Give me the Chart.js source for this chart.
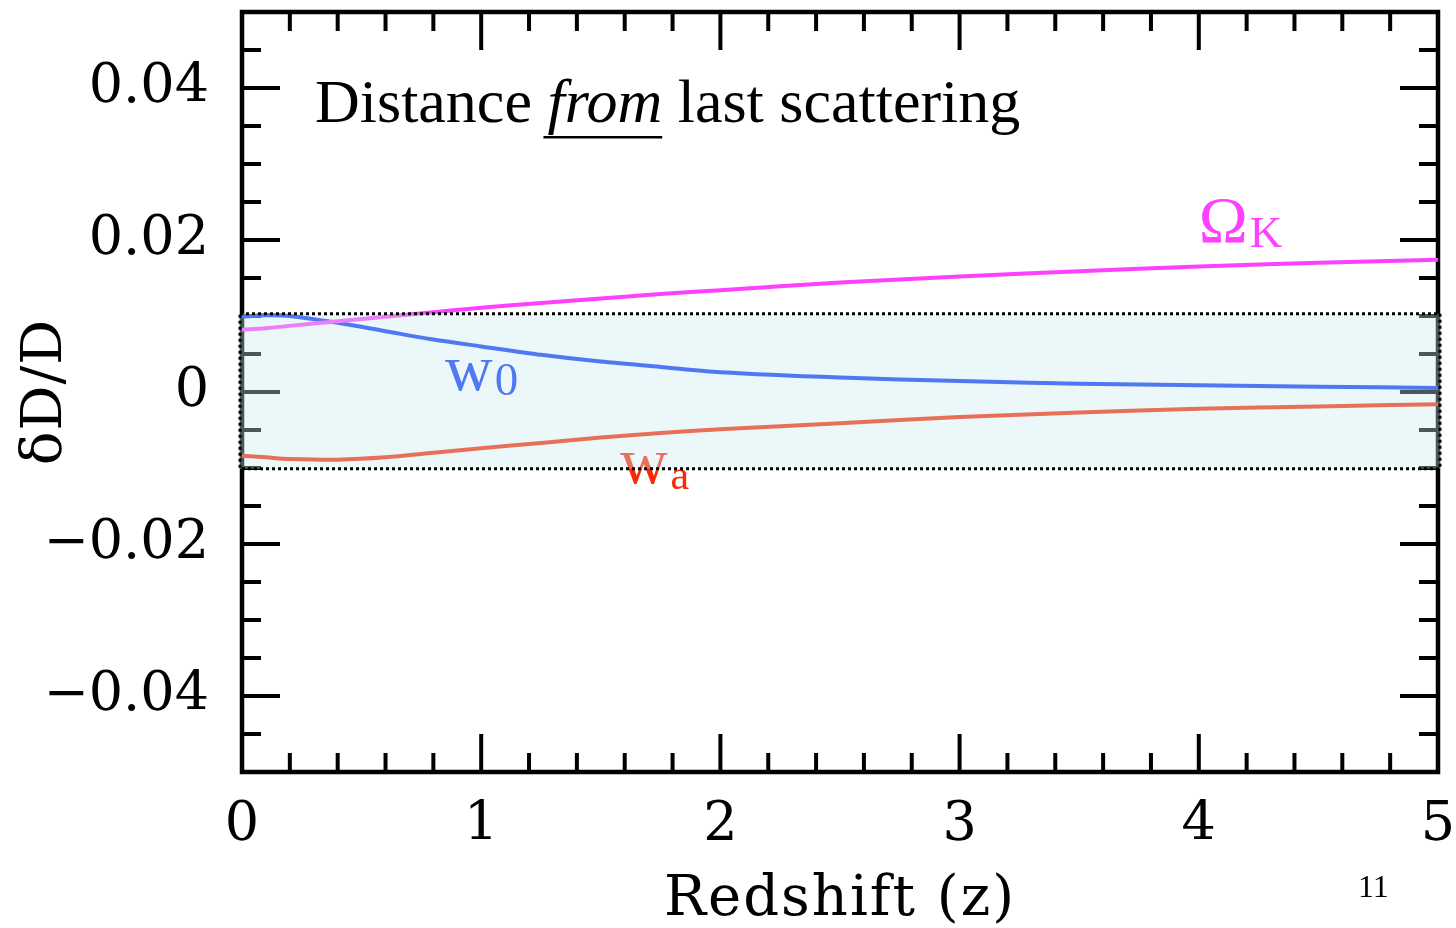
<!DOCTYPE html>
<html><head><meta charset="utf-8">
<script src="https://cdn.jsdelivr.net/npm/chart.js@4.4.1/dist/chart.umd.min.js"></script>
<style>html,body{margin:0;padding:0;background:#fff;overflow:hidden}canvas{display:block}</style>
</head><body>
<canvas id="c" width="1456" height="928"></canvas>
<script>
// ---- data ----
const redshift = [0, 0.1, 0.2, 0.4, 0.6, 0.8, 1.0, 1.25, 1.5, 1.75, 2.0, 2.5, 3.0, 3.5, 4.0, 4.5, 5.0];
const omegaK   = [0.0082, 0.0084, 0.0087, 0.0093, 0.0099, 0.0105, 0.0111, 0.0117, 0.0123, 0.0129, 0.0134, 0.0144, 0.0152, 0.0159, 0.0165, 0.0170, 0.0174];
const w0       = [0.0099, 0.0101, 0.0100, 0.0091, 0.0080, 0.0069, 0.0060, 0.0049, 0.0040, 0.0033, 0.0026, 0.0019, 0.00145, 0.0011, 0.0009, 0.0007, 0.00053];
const wa       = [-0.0084, -0.0086, -0.0088, -0.0089, -0.0086, -0.0080, -0.0074, -0.0067, -0.0060, -0.0054, -0.0049, -0.0041, -0.0033, -0.0027, -0.0022, -0.0019, -0.0016];
const xTickValues = [0, 1, 2, 3, 4, 5];
const xTickLabels = ['0', '1', '2', '3', '4', '5'];
const yTickValues = [-0.04, -0.02, 0, 0.02, 0.04];
const yTickLabels = ['\u22120.04', '\u22120.02', '0', '0.02', '0.04'];
const bandRange = [-0.0101, 0.0103];
const seriesNames = ['\u03A9K', 'w0', 'wa'];

const MAG = '#FF40FF', BLUE = '#0A36F4', RED = '#FA2A06';
const tickFont = {family: '"DejaVu Serif"', size: 54};

const toPts = ys => redshift.map((z, i) => ({x: z, y: ys[i]}));
const noPad = s => { s.paddingLeft = 0; s.paddingRight = 0; s.paddingTop = 0; s.paddingBottom = 0; };

const decor = {
  id: 'decor',
  beforeDraw(chart) {
    for (const [id, sp] of [['x', '2px'], ['y', '1px']]) {
      const s = chart.scales[id];
      if (s && !s._lsPatched) {
        const orig = s.drawTitle.bind(s);
        s.drawTitle = function () { const c = this.ctx; c.save(); c.letterSpacing = sp; orig(); c.restore(); };
        s._lsPatched = true;
      }
    }
  },
  beforeDatasetsDraw(chart) {
    const {ctx, chartArea: a, scales: {x, y}} = chart;
    ctx.save();
    ctx.strokeStyle = '#000';
    ctx.lineWidth = 4;
    ctx.lineCap = 'butt';
    ctx.beginPath();
    for (let i = 1; i < 25; i++) {
      const px = x.getPixelForValue(i / 5);
      const L = (i % 5 === 0) ? 38 : 19;
      ctx.moveTo(px, a.bottom); ctx.lineTo(px, a.bottom - L);
      ctx.moveTo(px, a.top); ctx.lineTo(px, a.top + L);
    }
    for (let i = -9; i <= 9; i++) {
      const py = y.getPixelForValue(i * 0.005);
      const L = (i % 4 === 0) ? 38 : 19;
      ctx.moveTo(a.left, py); ctx.lineTo(a.left + L, py);
      ctx.moveTo(a.right, py); ctx.lineTo(a.right - L, py);
    }
    ctx.stroke();
    ctx.lineWidth = 4.5;
    ctx.lineJoin = 'miter';
    ctx.strokeRect(a.left, a.top, a.right - a.left, a.bottom - a.top);
    ctx.restore();
  },
  afterDatasetsDraw(chart) {
    const {ctx, chartArea: a, scales: {x, y}} = chart;
    ctx.save();
    ctx.textBaseline = 'alphabetic';
    ctx.textAlign = 'left';
    const serif = '"Liberation Serif", "Times New Roman", serif';
    let tx = a.left + 73, ty = a.top + 110;
    const parts = [['Distance ', ''], ['from', 'italic '], [' last scattering', '']];
    ctx.fillStyle = '#000';
    for (const [t, st] of parts) {
      ctx.font = st + '62px ' + serif;
      ctx.fillText(t, tx, ty);
      const w = ctx.measureText(t).width;
      if (st) { ctx.fillRect(tx - 4, ty + 14, w + 4, 2.5); }
      tx += w;
    }
    function lab(z, v, main, sub, f1, f2, dx, dy, color) {
      const px = x.getPixelForValue(z), py = y.getPixelForValue(v);
      ctx.fillStyle = color;
      ctx.font = f1 + 'px ' + serif;
      ctx.fillText(main, px, py);
      const w = ctx.measureText(main).width;
      ctx.font = f2 + 'px ' + serif;
      ctx.fillText(sub, px + w + dx, py + dy);
    }
    lab(4.0, 0.0197, seriesNames[0].charAt(0), seriesNames[0].charAt(1), 66, 45, 2, 5, MAG);
    lab(0.849, 0.00026, seriesNames[1].charAt(0), seriesNames[1].charAt(1), 66, 47, 2, 5, BLUE);
    lab(1.58, -0.0120, seriesNames[2].charAt(0), seriesNames[2].charAt(1), 66, 42, 3, 6, RED);
    ctx.fillStyle = '#000';
    ctx.font = '32px ' + serif;
    ctx.fillText('11', a.right - 80, a.bottom + 125);
    const yT = y.getPixelForValue(bandRange[1]), yB = y.getPixelForValue(bandRange[0]);
    ctx.fillStyle = 'rgba(200,232,238,0.37)';
    ctx.fillRect(a.left - 2, yT, a.right - a.left + 4, yB - yT);
    ctx.strokeStyle = '#000';
    ctx.lineWidth = 3;
    ctx.setLineDash([3, 3]);
    ctx.strokeRect(a.left - 2, yT, a.right - a.left + 4, yB - yT);
    ctx.restore();
  }
};

new Chart(document.getElementById('c'), {
  type: 'line',
  data: {
    datasets: [
      {label: seriesNames[0], data: toPts(omegaK), borderColor: MAG},
      {label: seriesNames[1], data: toPts(w0), borderColor: BLUE},
      {label: seriesNames[2], data: toPts(wa), borderColor: RED}
    ]
  },
  options: {
    responsive: false,
    animation: false,
    devicePixelRatio: 1,
    layout: {padding: {top: 12, right: 18, left: 0, bottom: 0}},
    elements: {
      line: {borderWidth: 4, tension: 0.3, cubicInterpolationMode: 'default', fill: false},
      point: {radius: 0, hoverRadius: 0}
    },
    plugins: {legend: {display: false}, tooltip: {enabled: false}},
    scales: {
      x: {
        type: 'linear', min: 0, max: 5,
        grid: {display: false, drawTicks: false},
        border: {display: false},
        afterBuildTicks: s => { s.ticks = xTickValues.map(v => ({value: v})); },
        afterFit: s => { s.height = 156; noPad(s); },
        ticks: {
          font: tickFont, color: '#000', padding: 22, maxRotation: 0, autoSkip: false,
          callback: (v) => xTickLabels[xTickValues.indexOf(v)]
        },
        title: {display: true, text: 'Redshift (z)', color: '#000',
          font: {family: '"DejaVu Serif"', size: 56, lineHeight: 1}, padding: {top: 0, bottom: 0}}
      },
      y: {
        type: 'linear', min: -0.05, max: 0.05,
        grid: {display: false, drawTicks: false},
        border: {display: false},
        afterBuildTicks: s => { s.ticks = yTickValues.map(v => ({value: v})); },
        afterFit: s => { s.width = 242; noPad(s); },
        ticks: {
          font: tickFont, color: '#000', padding: 33, autoSkip: false,
          callback: (v) => { const i = yTickValues.findIndex(t => Math.abs(t - v) < 1e-9); return yTickLabels[i]; }
        },
        title: {display: true, text: '\u03B4D/D', color: '#000',
          font: {family: '"DejaVu Serif"', size: 56, lineHeight: 1}, padding: {top: 18, bottom: 0}}
      }
    }
  },
  plugins: [decor]
});
</script>
</body></html>
